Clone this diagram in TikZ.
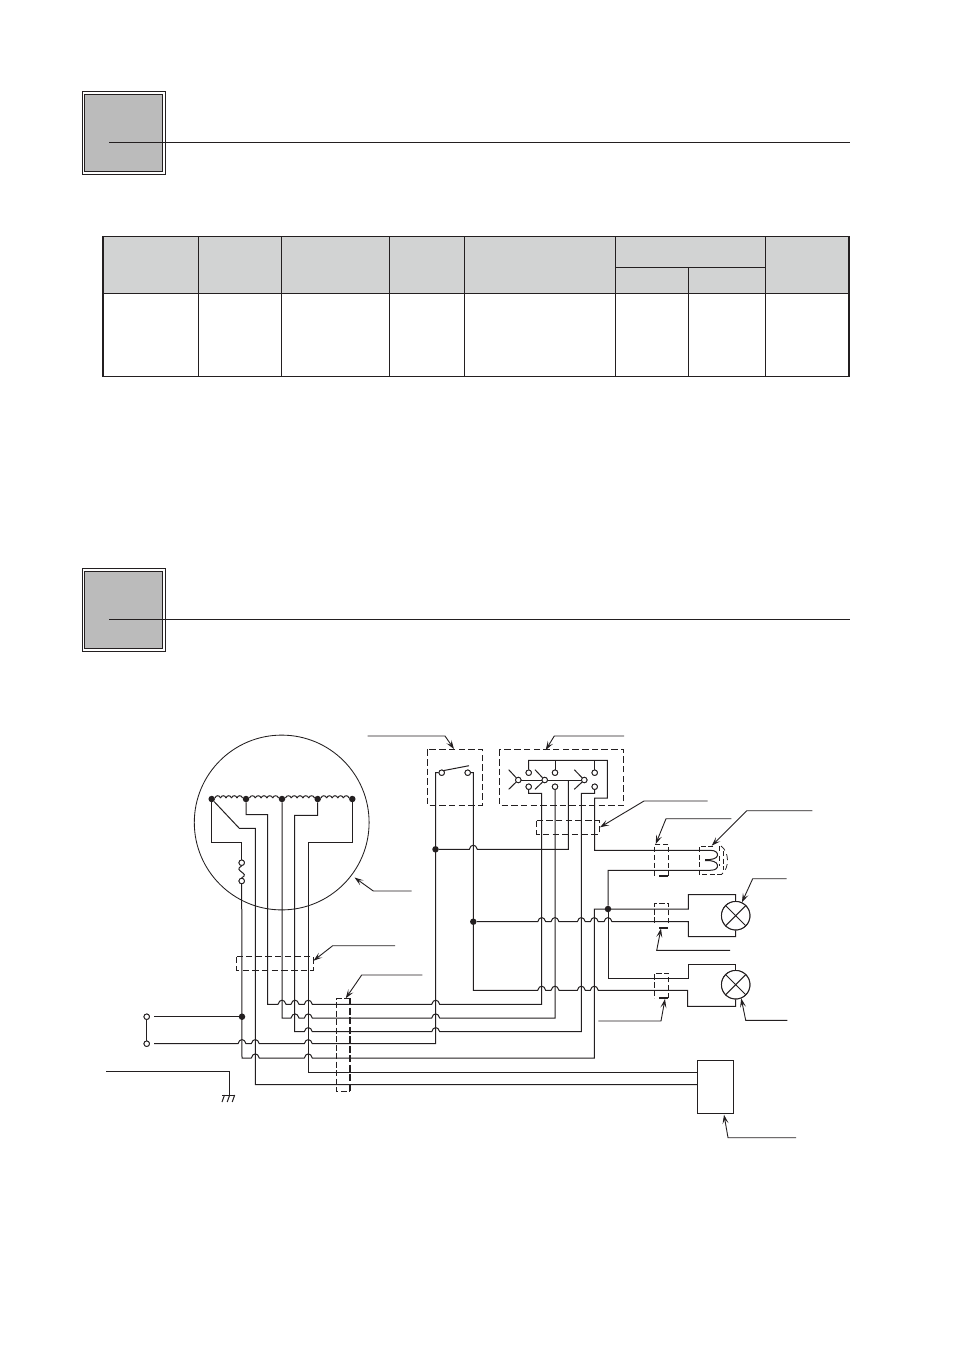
\documentclass[tikz,border=0pt]{standalone}
\usetikzlibrary{arrows.meta}
\definecolor{ink}{HTML}{231F20}
\definecolor{headgrey}{HTML}{BBBBBB}
\definecolor{tablegrey}{HTML}{D2D3D3}
\newcommand{\hopx}[2]{-- (#1-4,#2) .. controls (#1-2.6,#2-5.5) and (#1+2.6,#2-5.5) .. (#1+4,#2)}
\newcommand{\windseg}[3]{%
  \pgfmathsetmacro{\wstep}{(#2-#1)/5}
  \foreach \wi in {0,...,4}{
    \pgfmathsetmacro{\wa}{#1+\wi*\wstep}
    \pgfmathsetmacro{\wb}{\wa+\wstep}
    \draw[wire] (\wa,#3-1) .. controls (\wa+0.8,#3-4) and (\wb-0.8,#3-4) .. (\wb,#3-1);
  }}
\tikzset{
  x=1pt,y=-1pt,
  wire/.style={draw=ink,line width=1pt},
  thinrule/.style={draw=ink,line width=0.8pt},
  grid/.style={draw=ink,line width=0.9pt},
  dashbox/.style={draw=ink,line width=0.8pt,dash pattern=on 6.5pt off 3.2pt},
  leader/.style={draw=ink,line width=0.9pt,-{Stealth[length=9pt,width=6pt,inset=4pt]}},
  term/.style={circle,draw=ink,fill=white,line width=0.85pt,minimum size=5.5pt,inner sep=0pt},
  joint/.style={circle,fill=ink,minimum size=6.5pt,inner sep=0pt},
  lampbulb/.style={circle,draw=ink,line width=0.95pt,minimum size=28.5pt,inner sep=0pt},
  unitbox/.style={draw=ink,line width=1pt,minimum width=35.7pt,minimum height=53pt,inner sep=0pt}
}
\begin{document}
\begin{tikzpicture}
\useasboundingbox (0,0) rectangle (954,1350);
\fill[white] (0,0) rectangle (954,1350);

% ---- section headings
\foreach \dy in {0,477}{
  \draw[ink,line width=0.8pt] (82.5,91.5+\dy) rectangle (165.5,174.5+\dy);
  \draw[ink,line width=0.9pt,fill=headgrey] (84.5,94+\dy) rectangle (162.8,171.7+\dy);
  \draw[thinrule] (109,142.3+\dy) -- (849.5,142.3+\dy);
}

% ---- table
\fill[tablegrey] (103,236.5) rectangle (849,293.3);
\foreach \tx in {198.3,281.3,389.3,464.3,615.3,765.3}{
  \draw[grid] (\tx,236.3) -- (\tx,376.5);
}
\draw[grid] (688.3,267.3) -- (688.3,376.5);
\draw[grid] (615.3,267.3) -- (765.3,267.3);
\draw[grid] (103,236.5) -- (849,236.5);
\draw[grid] (103,293.3) -- (849,293.3);
\draw[grid] (103,376.5) -- (849,376.5);
\draw[ink,line width=1.9pt] (103.2,236) -- (103.2,377);
\draw[ink,line width=1.9pt] (848.8,236) -- (848.8,377);

% ---- motor circle
\node[circle,draw=ink,line width=0.85pt,minimum size=174.8pt,inner sep=0pt] (motor) at (281.7,822.5) {};
\node[joint] (w1) at (211.7,799) {};
\node[joint] (w2) at (246,799) {};
\node[joint] (w3) at (282,799) {};
\node[joint] (w4) at (317.7,799) {};
\node[joint] (w5) at (352.3,799) {};
\windseg{215}{242.5}{799}
\windseg{249.5}{278.5}{799}
\windseg{285.5}{314.5}{799}
\windseg{321}{349}{799}

% junctions and terminals
\node[term] (fa) at (241.7,862.7) {};
\node[term] (fb) at (241.7,881) {};
\node[term] (ta) at (146.7,1016.7) {};
\node[term] (tb) at (146.7,1043.7) {};
\node[joint] (j1) at (242,1016.7) {};
\node[joint] (j2) at (435.5,849.3) {};
\node[joint] (j3) at (473.3,921.7) {};
\node[joint] (j4) at (608,909) {};
\node[term] (sa) at (441.7,772.7) {};
\node[term] (sb) at (467.7,772.7) {};
\node[term] (c1) at (528.7,772.7) {};
\node[term] (c2) at (555,772.7) {};
\node[term] (c3) at (594.7,772.7) {};
\node[term] (d1) at (528.7,786.7) {};
\node[term] (d2) at (555,786.7) {};
\node[term] (d3) at (594.7,786.7) {};
\node[term] (m1) at (518.3,780) {};
\node[term] (m2) at (544.7,780) {};
\node[term] (m3) at (584.3,780) {};
\node[lampbulb] (lampa) at (735.7,915.7) {};
\node[lampbulb] (lampb) at (735.7,984.7) {};
\node[unitbox] (unit) at (715.2,1087.2) {};

% ---- wiring
\draw[wire] (fa) -- (241.7,842) -- (211.7,842) -- (w1);
\draw[wire] (fa.south) .. controls (232,871) and (251,873) .. (fb.north);
\draw[wire] (w1) -- (239.3,828.3) -- (255.3,828.3) -- (255.3,1084.7) -- (unit.west |- 0,1084.7);
\draw[wire] (fb) -- (242,1058) \hopx{255.3}{1058} \hopx{308.3}{1058} -- (594.3,1058) -- (594.3,909) -- (688.3,909) -- (688.3,894.7) -- (735.7,894.7) -- (lampa);
\draw[wire] (w2) -- (246,814.7) -- (267.7,814.7) -- (267.7,1004.3) \hopx{282}{1004.3} \hopx{295}{1004.3} \hopx{308.3}{1004.3} \hopx{435.7}{1004.3} -- (541.7,1004.3) -- (541.7,793.3) -- (528.7,793.3) -- (d1);
\draw[wire] (w3) -- (282,1018) \hopx{295}{1018} \hopx{308.3}{1018} \hopx{435.7}{1018} -- (555,1018) -- (d2);
\draw[wire] (w4) -- (317.7,815.3) -- (294.7,815.3) -- (294.7,1031.7) \hopx{308.3}{1031.7} \hopx{435.7}{1031.7} -- (581.3,1031.7) -- (581.3,793.3) -- (594.7,793.3) -- (d3);
\draw[wire] (w5) -- (352.3,842.7) -- (308.3,842.7) -- (308.3,1072.3) -- (unit.west |- 0,1072.3);
\draw[wire] (ta) -- (tb);
\coordinate (la) at (154,1016.7);
\coordinate (lb) at (154,1043.7);
\draw[wire] (la) -- (j1);
\draw[wire] (lb) \hopx{242}{1043.7} \hopx{255.3}{1043.7} \hopx{308.3}{1043.7} -- (435.5,1043.7) -- (435.5,772.7) -- (sa);
\draw[wire] (sb) -- (473.3,772.7) -- (473.3,990.3) \hopx{541.7}{990.3} \hopx{555}{990.3} \hopx{581.3}{990.3} \hopx{594.3}{990.3} -- (687.7,990.3) -- (687.7,1006.3) -- (735.7,1006.3) -- (lampb);
\draw[wire] (j3) \hopx{541.7}{921.7} \hopx{555}{921.7} \hopx{581.3}{921.7} \hopx{594.3}{921.7} \hopx{608}{921.7} -- (688.3,921.7) -- (688.3,936.7) -- (735.7,936.7) -- (lampa);
\draw[wire] (j2) \hopx{473.3}{849.3} -- (568.3,849.3) -- (568.3,780);
\draw[wire] (m1) -- (m3);
\draw[wire] (m1) -- (508.7,769.7) (m1) -- (508.7,789.3);
\draw[wire] (m2) -- (535,769.7) (m2) -- (535,789.3);
\draw[wire] (m3) -- (574.3,769.7) (m3) -- (574.3,789.3);
\draw[wire] (c1) -- (528.7,760.3) -- (607.3,760.3) -- (607.3,798) -- (594.7,798) -- (594.7,850.3) -- (710,850.3)
  .. controls (716,850.3) and (718,853) .. (717.5,855.5) .. controls (717,858.5) and (712,860) .. (705,859.5);
\draw[wire] (705,860.5) .. controls (712,860) and (717,862) .. (717.5,865) .. controls (718,868) and (716,870.3) .. (710,870.3) -- (608,870.3) -- (j4);
\draw[wire] (c2) -- (555,760.3) (c3) -- (594.7,760.3);
\draw[wire] (j4) -- (608,978.7) -- (688.7,978.7) -- (688.7,964.7) -- (735.7,964.7) -- (lampb);
\foreach \nm in {fa,fb,ta,tb,sa,sb,c1,c2,c3,d1,d2,d3,m1,m2,m3}{
  \node[term] at (\nm) {};
}
\draw[wire] (444,770.5) -- (469,765.7);
\foreach \lp in {lampa,lampb}{
  \fill[white] (\lp) circle (14pt);
  \node[lampbulb] at (\lp) {};
  \draw[wire] (\lp.45) -- (\lp.225) (\lp.135) -- (\lp.315);
}
\node[unitbox] at (unit) {};

% ---- ground
\coordinate (gstart) at (106,1071);
\coordinate (gdrop) at (229.7,1095);
\draw[wire] (gstart) -- (229.7,1071) -- (gdrop);
\draw[wire] (222.3,1095) -- (235,1095);
\draw[wire] (224.5,1095) -- (222,1102) (229.7,1095) -- (227.2,1102) (234.7,1095) -- (232.2,1102);

% ---- dashed outlines
\draw[dashbox] (427.3,749.3) rectangle (482.3,805.3);
\draw[dashbox] (499.3,749.3) rectangle (623.7,805.3);
\draw[dashbox] (536.7,820.7) rectangle (599.3,834);
\draw[dashbox] (236.7,956.7) rectangle (313.3,970.3);
\draw[ink,line width=0.75pt,dash pattern=on 6pt off 2.5pt] (350,998.3) -- (336.7,998.3) -- (336.7,1091.3) -- (350,1091.3);
\draw[ink,line width=1.7pt,dash pattern=on 7pt off 2.5pt] (350,998.3) -- (350,1091.3);
\foreach \ya/\yb in {844.3/876,903.3/923.3,973.3/998.3}{
  \draw[ink,line width=0.75pt,dash pattern=on 5.5pt off 2.5pt] (668.7,\yb) -- (668.7,\ya) -- (654.7,\ya) -- (654.7,\yb);
}
\draw[ink,line width=1.7pt] (659,876) -- (668,876);
\draw[ink,line width=1.7pt] (659,927.7) -- (668,927.7);
\draw[ink,line width=1.7pt] (659,998.3) -- (668,998.3);
% relay coil surround
\draw[ink,line width=0.75pt,dash pattern=on 5pt off 2.5pt] (713,846) -- (699.3,846) -- (699.3,874.3) -- (722,874.3);
\draw[ink,line width=0.75pt,dash pattern=on 5pt off 2.5pt] (719.3,846) -- (719.3,852) (719.3,856) -- (719.3,866);
\draw[ink,line width=0.75pt,dash pattern=on 5pt off 2.5pt] (723.3,851) -- (723.3,870);
\draw[ink,line width=0.75pt,dash pattern=on 6pt off 4pt] (721,846) .. controls (729.5,852) and (729.5,868) .. (722,874);

% ---- leaders
\coordinate (l1) at (367.7,736);
\coordinate (a1) at (454,749);
\draw[leader] (l1) -- (445,736) -- (a1);
\coordinate (l2) at (624,736);
\coordinate (a2) at (545.7,750);
\draw[leader] (l2) -- (554.3,736) -- (a2);
\coordinate (l3) at (707.7,801);
\coordinate (a3) at (600,827.3);
\draw[leader] (l3) -- (644,801) -- (a3);
\coordinate (l4) at (731.3,818.7);
\coordinate (a4) at (655.7,844);
\draw[leader] (l4) -- (666,818.7) -- (a4);
\coordinate (l5) at (812.3,810.7);
\coordinate (a5) at (711.7,845.7);
\draw[leader] (l5) -- (746.7,810.7) -- (a5);
\coordinate (l6) at (786.7,878.7);
\draw[leader] (l6) -- (752.7,878.7) -- (lampa.65);
\coordinate (l7) at (730,950.3);
\coordinate (a7) at (661,928.5);
\draw[leader] (l7) -- (656.7,950.3) -- (a7);
\coordinate (l8) at (598.3,1021);
\coordinate (a8) at (665,999);
\draw[leader] (l8) -- (661,1021) -- (a8);
\coordinate (l9) at (787.3,1020.3);
\draw[leader] (l9) -- (745.7,1020.3) -- (lampb.-68);
\coordinate (l10) at (796,1137.7);
\draw[leader] (l10) -- (728,1137.7) -- (724,1114.7);
\coordinate (l11) at (411.7,891);
\draw[leader] (l11) -- (373.3,891) -- (354.5,877.5);
\coordinate (l12) at (395,945.7);
\coordinate (a12) at (313.5,960.7);
\draw[leader] (l12) -- (332.7,945.7) -- (a12);
\coordinate (l13) at (422.3,975);
\coordinate (a13) at (345.7,998.3);
\draw[leader] (l13) -- (361.7,975) -- (a13);
\end{tikzpicture}
\end{document}
